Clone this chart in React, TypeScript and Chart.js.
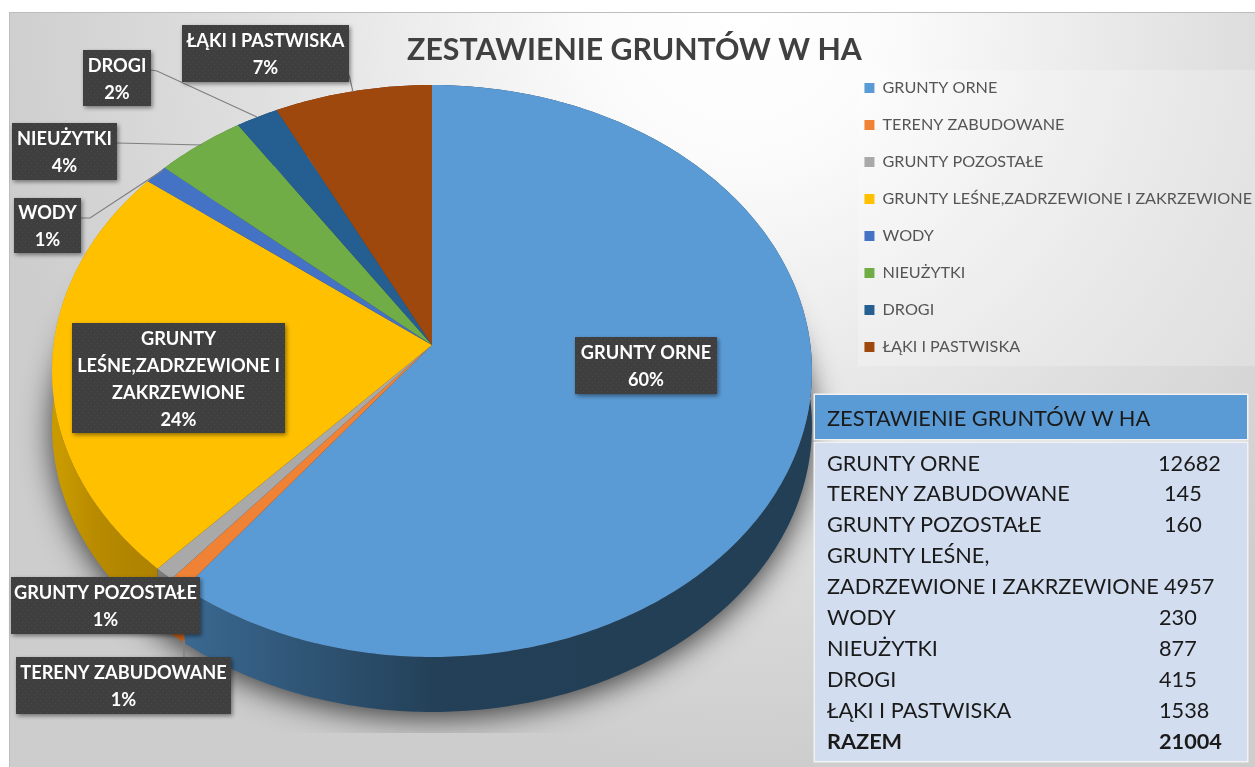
import React, { useEffect, useRef } from "react";
import { Chart, registerables } from "chart.js";

Chart.register(...registerables);

const categories = [
  "GRUNTY ORNE",
  "TERENY ZABUDOWANE",
  "GRUNTY POZOSTAŁE",
  "GRUNTY LEŚNE,ZADRZEWIONE I ZAKRZEWIONE",
  "WODY",
  "NIEUŻYTKI",
  "DROGI",
  "ŁĄKI I PASTWISKA",
];
const hectares = [12682, 145, 160, 4957, 230, 877, 415, 1538];
const sliceColors = ["#5b9bd5", "#f08235", "#a9a9a9", "#ffc000", "#4472c4", "#70ad47", "#255e91", "#9e480e"];
const title = "ZESTAWIENIE GRUNTÓW W HA";

const tableRows = [
  ["GRUNTY ORNE", "12682"],
  ["TERENY ZABUDOWANE", "145"],
  ["GRUNTY POZOSTAŁE", "160"],
  ["GRUNTY LEŚNE,", ""],
  ["ZADRZEWIONE I ZAKRZEWIONE", "4957"],
  ["WODY", "230"],
  ["NIEUŻYTKI", "877"],
  ["DROGI", "415"],
  ["ŁĄKI I PASTWISKA", "1538"],
  ["RAZEM", "21004"],
];
const tableNumberX = [1158, 1164, 1164, 0, 1164, 1159, 1159, 1159, 1159, 1159];

// Label callouts: box [x0,y0,x1,y1], wrapped name lines, optional leader polyline
const callouts = [
  { box: [575, 337, 717, 394], lines: ["GRUNTY ORNE"], leader: [] },
  { box: [16, 657, 231, 714], lines: ["TERENY ZABUDOWANE"], leader: [[184, 657], [184, 640]] },
  { box: [11, 577, 200, 634], lines: ["GRUNTY POZOSTAŁE"], leader: [] },
  { box: [72, 323, 285, 433], lines: ["GRUNTY", "LEŚNE,ZADRZEWIONE I", "ZAKRZEWIONE"], leader: [] },
  { box: [14, 198, 81, 253], lines: ["WODY"], leader: [[81, 218], [90, 218], [163, 170]] },
  { box: [12, 123, 117, 180], lines: ["NIEUŻYTKI"], leader: [[117, 143], [202, 145]] },
  { box: [83, 50, 151, 106], lines: ["DROGI"], leader: [[151, 70], [157, 71], [257, 117]] },
  { box: [182, 25, 349, 82], lines: ["ŁĄKI I PASTWISKA"], leader: [[349, 75], [353, 92]] },
];

const FONT = "Lato, Carlito, Calibri, sans-serif";

// Perspective projection of the pie disc
const APEX = { x: 432, y: 345 };
const C = -0.0909;
const SY = 283.6;
const SX = 378.4;
const DEPTH = 55;
const project = (t: number) => {
  const d = 1 + C * Math.sin(t);
  return [APEX.x + (SX * Math.cos(t)) / d, APEX.y + (SY * Math.sin(t)) / d];
};

const sideStops: string[][] = [
  ["#3a6890", "#234058", "#233f56", "#233f56"],
  ["#b85c1e", "#b85c1e", "#b85c1e", "#b85c1e"],
  ["#7c7c7c", "#7c7c7c", "#7c7c7c", "#7c7c7c"],
  ["#c99a00", "#b78a00", "#b08400", "#a87e00"],
  ["#33558f", "#33558f", "#33558f", "#33558f"],
  ["#54823a", "#54823a", "#54823a", "#54823a"],
  ["#1c466d", "#1c466d", "#1c466d", "#1c466d"],
  ["#76360b", "#76360b", "#76360b", "#76360b"],
];

function rimPath(ctx: CanvasRenderingContext2D, a0: number, a1: number, dy: number, reverse: boolean) {
  const n = Math.max(2, Math.ceil(Math.abs(a1 - a0) * 80));
  for (let i = 0; i <= n; i++) {
    const f = reverse ? 1 - i / n : i / n;
    const p = project(a0 + (a1 - a0) * f);
    ctx.lineTo(p[0], p[1] + dy);
  }
}

const backgroundPlugin = {
  id: "panel",
  afterLayout(chart: any) {
    // legend sits closer to the right edge and lower than the library's layout places it
    chart.legend.left += 7;
    chart.legend.right += 7;
    chart.legend.top += 27;
    chart.legend.bottom += 27;
  },
  beforeDraw(chart: any) {
    const { ctx, width, height } = chart;
    ctx.save();
    ctx.fillStyle = "#ffffff";
    ctx.fillRect(0, 0, width, height);
    const g = ctx.createRadialGradient(740, 10, 0, 740, 10, 760);
    g.addColorStop(0, "#ffffff");
    g.addColorStop(0.2, "#fbfbfb");
    g.addColorStop(0.65, "#dfdfdf");
    g.addColorStop(1, "#cdcdcd");
    ctx.fillStyle = g;
    ctx.fillRect(9, 12, width - 9, height - 12);
    ctx.fillStyle = "#bdbdbd";
    ctx.fillRect(9, 12, width - 9, 1);
    ctx.fillRect(9, 12, 1, height - 12);
    ctx.fillStyle = "rgba(255,255,255,0.22)";
    ctx.fillRect(858, 70, width - 858, 296);
    ctx.restore();
  },
};

const piePlugin = {
  id: "perspectivePie",
  beforeDatasetDraw(chart: any, args: any) {
    const { ctx } = chart;
    const arcs = chart.getDatasetMeta(args.index).data;
    ctx.save();
    // soft ground shadow, clipped at its straight lower edge
    ctx.save();
    ctx.beginPath();
    ctx.rect(0, 0, 1255, 733);
    ctx.clip();
    ctx.shadowColor = "rgba(60,60,60,1)";
    ctx.shadowBlur = 30;
    ctx.shadowOffsetX = 3000;
    ctx.shadowOffsetY = 6;
    ctx.translate(-3000, 0);
    ctx.fillStyle = "#000";
    ctx.beginPath();
    rimPath(ctx, 0, Math.PI * 2, DEPTH, false);
    ctx.closePath();
    ctx.fill();
    ctx.restore();
    // extruded rim
    arcs.forEach((el: any, i: number) => {
      const { startAngle, endAngle } = el.getProps(["startAngle", "endAngle"], true);
      const g = ctx.createLinearGradient(60, 0, 812, 0);
      const s = sideStops[i];
      if (i === 0) {
        g.addColorStop(0.17, s[0]);
        g.addColorStop(0.5, s[1]);
        g.addColorStop(0.72, s[2]);
        g.addColorStop(1, s[3]);
      } else {
        g.addColorStop(0, s[0]);
        g.addColorStop(0.05, s[1]);
        g.addColorStop(0.1, s[2]);
        g.addColorStop(0.2, s[3]);
      }
      ctx.fillStyle = g;
      ctx.beginPath();
      rimPath(ctx, startAngle, endAngle, 0, false);
      rimPath(ctx, startAngle, endAngle, DEPTH, true);
      ctx.closePath();
      ctx.fill();
    });
    // top faces
    arcs.forEach((el: any, i: number) => {
      const { startAngle, endAngle } = el.getProps(["startAngle", "endAngle"], true);
      ctx.fillStyle = sliceColors[i];
      ctx.beginPath();
      ctx.moveTo(APEX.x, APEX.y);
      rimPath(ctx, startAngle, endAngle, 0, false);
      ctx.closePath();
      ctx.fill();
    });
    ctx.restore();
    return false;
  },
};

let dotPattern: CanvasPattern | null = null;
function getPattern(ctx: CanvasRenderingContext2D) {
  if (dotPattern) return dotPattern;
  const c = document.createElement("canvas");
  c.width = 6;
  c.height = 6;
  const x = c.getContext("2d")!;
  x.fillStyle = "#3f3f3f";
  x.fillRect(0, 0, 6, 6);
  x.fillStyle = "#4a4a4a";
  x.fillRect(1, 1, 1, 1);
  x.fillRect(4, 4, 1, 1);
  dotPattern = ctx.createPattern(c, "repeat");
  return dotPattern;
}

const calloutPlugin = {
  id: "callouts",
  afterDatasetsDraw(chart: any) {
    const { ctx } = chart;
    const total = hectares.reduce((a, b) => a + b, 0);
    ctx.save();
    callouts.forEach((c) => {
      if (c.leader.length) {
        ctx.strokeStyle = "#7f7f7f";
        ctx.lineWidth = 1.2;
        ctx.beginPath();
        c.leader.forEach((p, k) => (k ? ctx.lineTo(p[0], p[1]) : ctx.moveTo(p[0], p[1])));
        ctx.stroke();
      }
    });
    callouts.forEach((c, i) => {
      const [x0, y0, x1, y1] = c.box;
      ctx.save();
      ctx.shadowColor = "rgba(0,0,0,0.45)";
      ctx.shadowBlur = 4;
      ctx.shadowOffsetX = 1.5;
      ctx.shadowOffsetY = 2;
      ctx.fillStyle = getPattern(ctx);
      ctx.fillRect(x0, y0, x1 - x0, y1 - y0);
      ctx.restore();
      const pct = Math.max(1, Math.round((hectares[i] / total) * 100)) + "%";
      const lines = [...c.lines, pct];
      const step = 26.8;
      const cy = (y0 + y1) / 2 + 1.5;
      const cx = (x0 + x1) / 2;
      ctx.font = `bold 18.2px ${FONT}`;
      ctx.textAlign = "center";
      ctx.textBaseline = "middle";
      ctx.fillStyle = "#ffffff";
      lines.forEach((t, k) => {
        ctx.fillText(t, cx, cy + (k - (lines.length - 1) / 2) * step);
      });
    });
    ctx.restore();
  },
};

export default function App() {
  const ref = useRef<HTMLCanvasElement>(null);
  useEffect(() => {
    const chart = new Chart(ref.current!, {
      type: "pie",
      data: {
        labels: categories,
        datasets: [{ data: hectares, backgroundColor: sliceColors, borderWidth: 0 }],
      },
      options: {
        responsive: false,
        animation: false,
        events: [],
        layout: { padding: { left: 14, top: 32, right: 0, bottom: 0 } },
        plugins: {
          tooltip: { enabled: false },
          title: {
            display: true,
            text: title,
            color: "#404040",
            font: { family: FONT, size: 30.3, weight: "bold" },
            padding: { top: 0, bottom: 8 },
          },
          legend: {
            position: "right",
            align: "start",
            onClick: undefined,
            labels: {
              boxWidth: 10,
              boxHeight: 10,
              padding: 20.8,
              color: "#555555",
              font: { family: FONT, size: 16.2 },
            },
          },
        },
      },
      plugins: [backgroundPlugin, piePlugin, calloutPlugin],
    } as any);
    return () => chart.destroy();
  }, []);

  return (
    <div style={{ position: "absolute", left: 0, top: 0, width: 1255, height: 767, overflow: "hidden", filter: "blur(0.45px)" }}>
      <canvas ref={ref} width={1255} height={767} style={{ display: "block" }} />
      <div
        style={{
          position: "absolute", left: 815, top: 395, width: 432, height: 44, background: "#5b9bd5",
          font: `21.8px/46px ${FONT}`, color: "#1a1a1a", textIndent: 12, boxShadow: "0 0 0 1.5px #f2f2f2",
        }}
      >
        {title}
      </div>
      <div
        style={{
          position: "absolute", left: 815, top: 443, width: 432, height: 318, background: "#d2ddef",
          boxShadow: "0 0 0 1.5px #f2f2f2",
        }}
      />
      {tableRows.map((r, i) => (
        <React.Fragment key={i}>
          <div
            style={{
              position: "absolute", left: 827, top: 447.5 + i * 30.9, whiteSpace: "nowrap",
              font: `${i === 9 ? "bold " : ""}21.7px/31px ${FONT}`, color: "#1a1a1a",
            }}
          >
            {r[0]}
          </div>
          {r[1] && (
            <div
              style={{
                position: "absolute", left: tableNumberX[i], top: 447.5 + i * 30.9, whiteSpace: "nowrap",
                font: `${i === 9 ? "bold " : ""}21.7px/31px ${FONT}`, color: "#1a1a1a",
              }}
            >
              {r[1]}
            </div>
          )}
        </React.Fragment>
      ))}
    </div>
  );
}
